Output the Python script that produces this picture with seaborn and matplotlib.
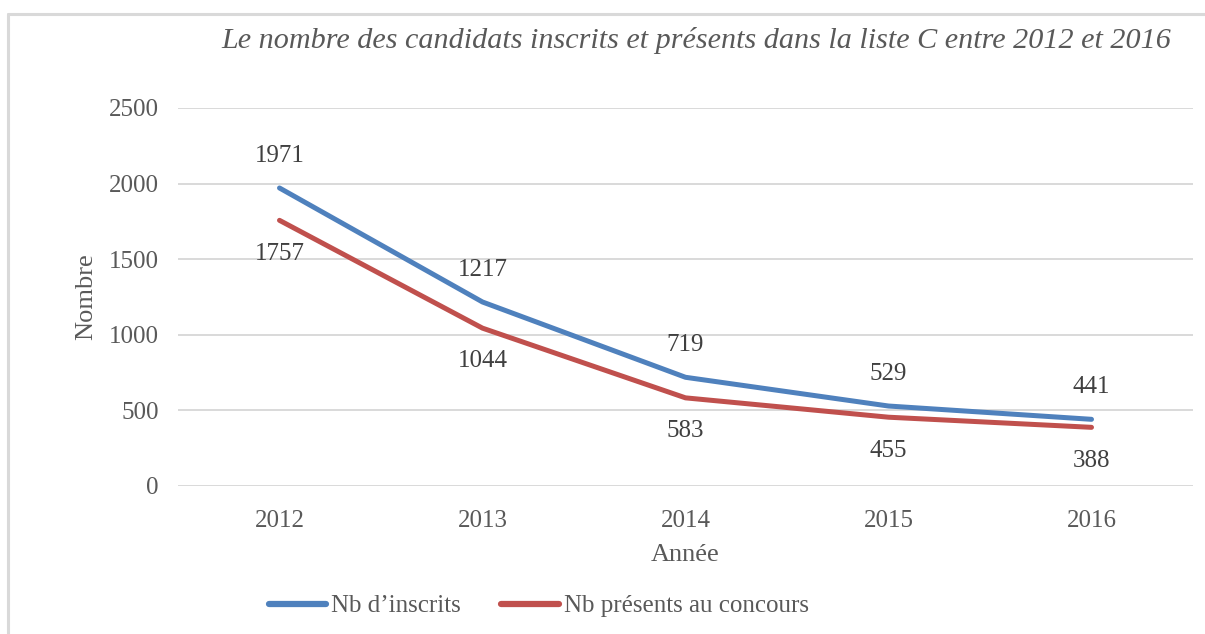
import matplotlib
matplotlib.use("Agg")
import matplotlib.pyplot as plt
from matplotlib.lines import Line2D
import pandas as pd
import seaborn as sns

# data
years = ["2012", "2013", "2014", "2015", "2016"]
inscrits = [1971, 1217, 719, 529, 441]
presents = [1757, 1044, 583, 455, 388]
series_names = ["Nb d\u2019inscrits", "Nb présents au concours"]

title = "Le nombre des candidats inscrits et présents dans la liste C entre 2012 et 2016"
yticks = [0, 500, 1000, 1500, 2000, 2500]

BLUE = "#4F81BD"
RED = "#C0504D"
TEXT = "#595959"
GRID = "#D9D9D9"

df = pd.DataFrame({
    "Année": years * 2,
    "Nombre": inscrits + presents,
    "Série": [series_names[0]] * len(years) + [series_names[1]] * len(years),
})

sns.set_theme(style="white")
plt.rcParams["font.family"] = ["Liberation Serif", "DejaVu Serif"]

fig = plt.figure(figsize=(12.05, 6.34), dpi=100)
ax = fig.add_axes([178 / 1205, 1 - 486 / 634, (1193 - 178) / 1205, (486 - 108) / 634])

sns.lineplot(data=df, x="Année", y="Nombre", hue="Série",
             palette=[BLUE, RED], linewidth=3.6, ax=ax, legend=False,
             sort=False)
for ln in ax.lines:
    ln.set_solid_capstyle("round")
    ln.set_solid_joinstyle("round")

# data labels: blue above, red below
for i, v in enumerate(inscrits):
    ax.annotate(str(v), (i, v), xytext=(0, 23), textcoords="offset points",
                ha="center", va="center", fontsize=18, color="#404040")
for i, v in enumerate(presents):
    ax.annotate(str(v), (i, v), xytext=(0, -24), textcoords="offset points",
                ha="center", va="center", fontsize=18, color="#404040")

ax.set_xlim(-0.5, len(years) - 0.5)
ax.set_ylim(0, 2500)
ax.set_yticks(yticks)
ax.yaxis.grid(True, color=GRID, linewidth=1.4)
ax.set_axisbelow(True)
for s in ax.spines.values():
    s.set_visible(False)
ax.tick_params(axis="both", length=0, labelsize=18, labelcolor=TEXT)
ax.tick_params(axis="y", pad=14)
ax.tick_params(axis="x", pad=17)
ax.set_xlabel("Année", fontsize=19, color=TEXT, labelpad=9)
ax.set_ylabel("Nombre", fontsize=19, color=TEXT, labelpad=8)

fig.text(0.578, 1 - 40 / 634, title, ha="center", va="center",
         fontsize=21.7, style="italic", color=TEXT)

handles = [Line2D([0], [0], color=BLUE, lw=4.5, solid_capstyle="round"),
           Line2D([0], [0], color=RED, lw=4.5, solid_capstyle="round")]
fig.legend(handles, series_names, loc="center", bbox_to_anchor=(0.447, 1 - 606 / 634),
           ncol=2, frameon=False, fontsize=18, handlelength=2.3,
           handletextpad=0.2, columnspacing=1.6, labelcolor=TEXT)

# outer chart border (only top and left visible in the crop)
fig.add_artist(Line2D([8 / 1205, 8 / 1205], [0, 1 - 14 / 634], color=GRID,
                      lw=2.2, transform=fig.transFigure))
fig.add_artist(Line2D([8 / 1205, 1], [1 - 14 / 634, 1 - 14 / 634], color=GRID,
                      lw=2.2, transform=fig.transFigure))

fig.savefig("out.png", dpi=100, facecolor="white")
